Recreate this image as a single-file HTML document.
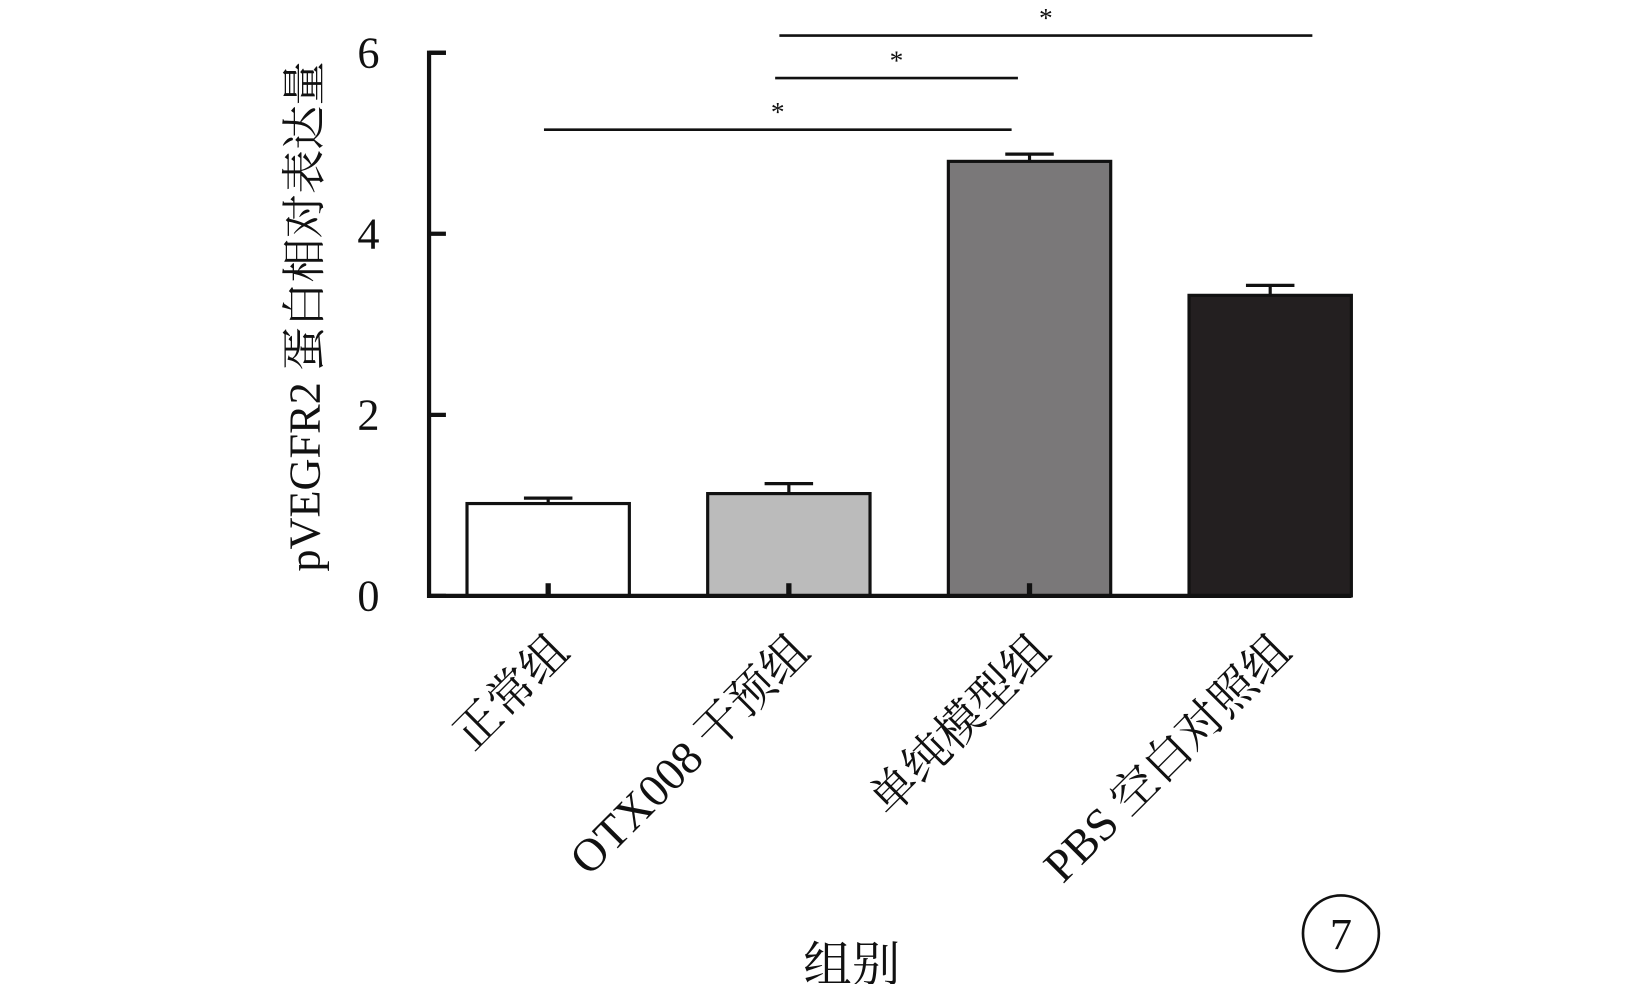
<!DOCTYPE html>
<html><head><meta charset="utf-8"><style>
html,body{margin:0;padding:0;background:#fff;}
svg{display:block;}
text{font-family:"Liberation Serif","Noto Serif CJK SC","Noto Sans CJK SC",serif;fill:#111;}
</style></head><body>
<svg id="chart" width="1634" height="984" viewBox="0 0 1550 933" preserveAspectRatio="none" xmlns="http://www.w3.org/2000/svg">
<g id="plot"></g>
<text x="0" y="0" font-size="42" text-anchor="middle" transform="translate(303,300) rotate(-90)">pVEGFR2 蛋白相对表达量</text>
<text x="808" y="930" font-size="46" text-anchor="middle">组别</text>
<circle cx="1272" cy="885" r="36" fill="none" stroke="#111" stroke-width="2.5"/>
<text x="1272" y="900" font-size="42" text-anchor="middle">7</text>
</svg>
<script>
const categories = ["正常组","OTX008 干预组","单纯模型组","PBS 空白对照组"];
const values = [1.02, 1.13, 4.80, 3.32];
const errors = [0.06, 0.11, 0.08, 0.11];
const fills = ["#ffffff","#bbbbbb","#7a7879","#231f20"];
const yTicks = [0, 2, 4, 6];
const sigPairs = [[0,2,5.15],[1,2,5.72],[1,3,6.19]];
const sigLabels = ["*","*","*"];

const NS = "http://www.w3.org/2000/svg";
const g = document.getElementById("plot");
const x0 = 407, x1 = 1282, yBase = 565, yTop = 50, yMax = 6;
const y = v => yBase - (yBase - yTop) * v / yMax;
const barW = 154, step = 228.3, firstX = 443;
const bx = i => firstX + i * step;
const cx = i => bx(i) + barW / 2;
function el(tag, attrs){const e=document.createElementNS(NS,tag);for(const k in attrs)e.setAttribute(k,attrs[k]);g.appendChild(e);return e;}

categories.forEach((c,i)=>{
  const b = el("rect",{x:bx(i),y:y(values[i]),width:barW,height:yBase-y(values[i]),fill:fills[i],stroke:"#111","stroke-width":3});
  
  
  const e = el("path",{d:`M${cx(i)} ${y(values[i])}V${y(values[i]+errors[i])}M${cx(i)-23} ${y(values[i]+errors[i])}H${cx(i)+23}`,stroke:"#111","stroke-width":3,fill:"none"});
  
  
  if(i<3){
    const m = el("line",{x1:cx(i),x2:cx(i),y1:yBase,y2:yBase-12,stroke:"#111","stroke-width":5});
    
    
  }
  const t = el("text",{"font-size":44,"text-anchor":"end",transform:`translate(${cx(i)+22},${yBase+55}) rotate(-45)`});
  t.textContent = c;
  
  
});

const ax = el("path",{d:`M${x0+16} ${yTop}H${x0}V${yBase}H${x1}`,stroke:"#111","stroke-width":4,fill:"none"});


yTicks.forEach(v=>{
  const tk = el("line",{x1:x0,x2:x0+16,y1:y(v),y2:y(v),stroke:"#111","stroke-width":4});
  
  
  const lb = el("text",{x:360,y:y(v)+14,"font-size":42,"text-anchor":"end"});
  lb.textContent = v;
  
  
});

sigPairs.forEach((p,k)=>{
  const xa = p[0]===0 ? cx(0)-4 : bx(p[0])+60 + k*4;
  const xb = p[1]===3 ? cx(3)+40 : cx(p[1])-17 + (k===1?6:0);
  const ln = el("line",{x1:xa,x2:xb,y1:y(p[2]),y2:y(p[2]),stroke:"#111","stroke-width":2.5});
  
  
  const s = el("text",{x:(xa+xb)/2,y:y(p[2])-8,"font-size":26,"text-anchor":"middle"});
  s.textContent = sigLabels[k];
  
  
});
</script>
</body></html>
